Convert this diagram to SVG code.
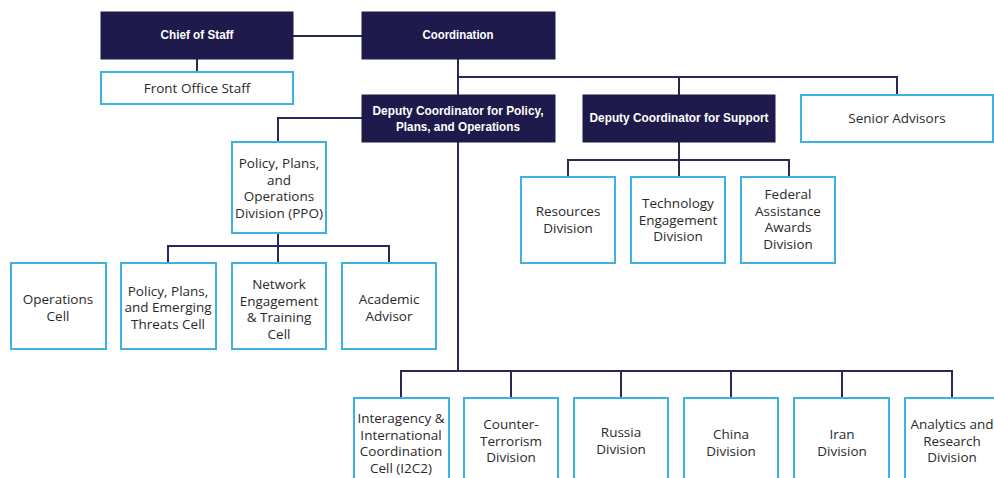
<svg xmlns="http://www.w3.org/2000/svg" width="994" height="478" viewBox="0 0 994 478">
<style>
.dk{fill:#1f1a4c;stroke:#1f1a4c;stroke-width:1}
.lt{fill:#ffffff;stroke:#3db2e2;stroke-width:2}
.h{font-family:"Liberation Sans",Arial,sans-serif;font-weight:bold;font-size:13px;fill:#ffffff;text-anchor:middle}
.t{font-family:"Open Sans","Noto Sans",sans-serif;font-size:13.5px;fill:#2a2a2a;text-anchor:middle}
.c{fill:none;stroke:#2b2858;stroke-width:2}
</style>
<rect width="994" height="478" fill="#ffffff"/>
<g id="connectors">
<path class="c" d="M293 36H362"/>
<path class="c" d="M197 59V72"/>
<path class="c" d="M458 59V371"/>
<path class="c" d="M458 77H897V95"/>
<path class="c" d="M679 77V95"/>
<path class="c" d="M679 142V160"/>
<path class="c" d="M568 177V160H789V177"/>
<path class="c" d="M679 160V177"/>
<path class="c" d="M362 118H278V142"/>
<path class="c" d="M278 233V246"/>
<path class="c" d="M168 263V246H389V263"/>
<path class="c" d="M278 246V263"/>
<path class="c" d="M401 398V371H952V398"/>
<path class="c" d="M511 371V398M621 371V398M731 371V398M842 371V398"/>
</g>
<g id="chief"><rect class="dk" x="101" y="12" width="192" height="47"/><text class="h" x="197" y="39" textLength="73" lengthAdjust="spacingAndGlyphs">Chief of Staff</text></g>
<g id="coordination"><rect class="dk" x="362" y="12" width="193" height="47"/><text class="h" x="458" y="39" textLength="71" lengthAdjust="spacingAndGlyphs">Coordination</text></g>
<g id="front-office"><rect class="lt" x="101" y="72" width="192" height="32"/><text class="t" x="197" y="93">Front Office Staff</text></g>
<g id="deputy-policy"><rect class="dk" x="362" y="95" width="193" height="47"/><text class="h" x="458" y="115" textLength="171" lengthAdjust="spacingAndGlyphs">Deputy Coordinator for Policy,</text><text class="h" x="458" y="131" textLength="124" lengthAdjust="spacingAndGlyphs">Plans, and Operations</text></g>
<g id="deputy-support"><rect class="dk" x="583" y="95" width="192" height="47"/><text class="h" x="679" y="122" textLength="179" lengthAdjust="spacingAndGlyphs">Deputy Coordinator for Support</text></g>
<g id="senior-advisors"><rect class="lt" x="801" y="95" width="192" height="47"/><text class="t" x="897" y="123">Senior Advisors</text></g>
<g id="resources"><rect class="lt" x="521" y="177" width="94" height="86"/><text class="t" x="568" y="216">Resources</text><text class="t" x="568" y="232.5">Division</text></g>
<g id="technology"><rect class="lt" x="631" y="177" width="94" height="86"/><text class="t" x="678" y="208">Technology</text><text class="t" x="678" y="224.5">Engagement</text><text class="t" x="678" y="241">Division</text></g>
<g id="federal"><rect class="lt" x="741" y="177" width="94" height="86"/><text class="t" x="788" y="199">Federal</text><text class="t" x="788" y="215.5">Assistance</text><text class="t" x="788" y="232">Awards</text><text class="t" x="788" y="248.5">Division</text></g>
<g id="ppo"><rect class="lt" x="232" y="142" width="94" height="91"/><text class="t" x="279" y="168">Policy, Plans,</text><text class="t" x="279" y="184.5">and</text><text class="t" x="279" y="201">Operations</text><text class="t" x="279" y="217.5">Division (PPO)</text></g>
<g id="operations-cell"><rect class="lt" x="11" y="263" width="95" height="86"/><text class="t" x="58" y="304">Operations</text><text class="t" x="58" y="320.5">Cell</text></g>
<g id="emerging-threats"><rect class="lt" x="121" y="263" width="95" height="86"/><text class="t" x="168" y="295.5">Policy, Plans,</text><text class="t" x="168" y="312">and Emerging</text><text class="t" x="168" y="328.5">Threats Cell</text></g>
<g id="network"><rect class="lt" x="232" y="263" width="94" height="86"/><text class="t" x="279" y="289">Network</text><text class="t" x="279" y="305.5">Engagement</text><text class="t" x="279" y="322">&amp; Training</text><text class="t" x="279" y="338.5">Cell</text></g>
<g id="academic"><rect class="lt" x="342" y="263" width="94" height="86"/><text class="t" x="389" y="304">Academic</text><text class="t" x="389" y="320.5">Advisor</text></g>
<g id="i2c2"><rect class="lt" x="354" y="398" width="95" height="90"/><text class="t" x="401" y="423">Interagency &amp;</text><text class="t" x="401" y="439.5">International</text><text class="t" x="401" y="456">Coordination</text><text class="t" x="401" y="472.5">Cell (I2C2)</text></g>
<g id="counter-terrorism"><rect class="lt" x="464" y="398" width="94" height="90"/><text class="t" x="511" y="429">Counter-</text><text class="t" x="511" y="445.5">Terrorism</text><text class="t" x="511" y="462">Division</text></g>
<g id="russia"><rect class="lt" x="574" y="398" width="94" height="90"/><text class="t" x="621" y="437">Russia</text><text class="t" x="621" y="453.5">Division</text></g>
<g id="china"><rect class="lt" x="684" y="398" width="94" height="90"/><text class="t" x="731" y="439">China</text><text class="t" x="731" y="455.5">Division</text></g>
<g id="iran"><rect class="lt" x="794" y="398" width="95" height="90"/><text class="t" x="842" y="439">Iran</text><text class="t" x="842" y="455.5">Division</text></g>
<g id="analytics"><rect class="lt" x="905" y="398" width="94" height="90"/><text class="t" x="952" y="429">Analytics and</text><text class="t" x="952" y="445.5">Research</text><text class="t" x="952" y="462">Division</text></g>
</svg>
